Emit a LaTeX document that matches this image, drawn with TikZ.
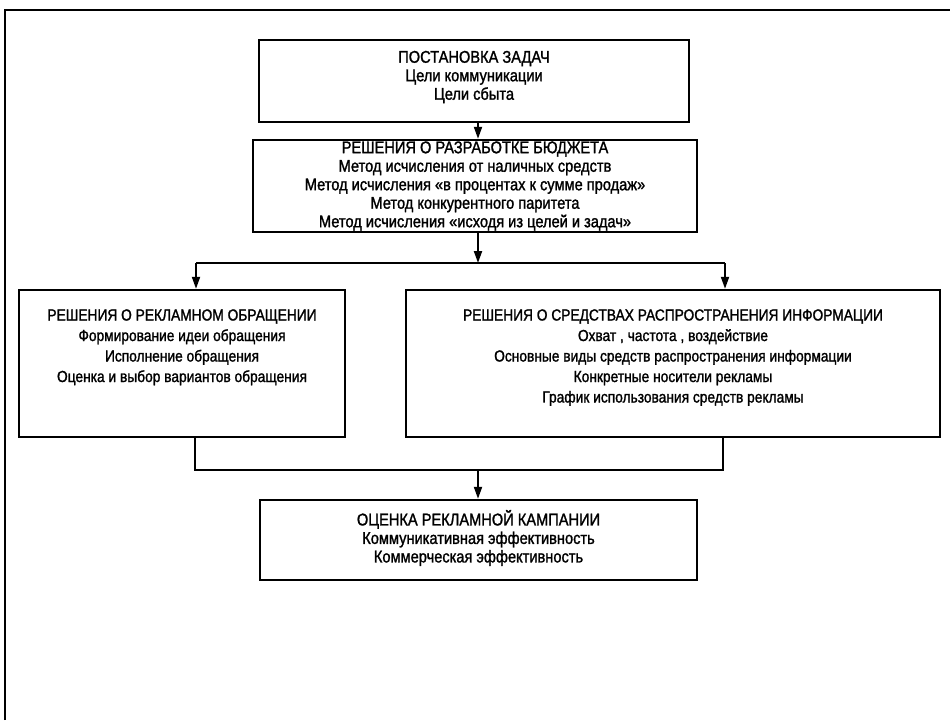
\documentclass[tikz,border=0pt]{standalone}
\usepackage{fontspec}
\setmainfont[FakeStretch=0.86,FakeBold=1.4]{Liberation Sans}
\usetikzlibrary{arrows.meta}
\begin{document}
\begin{tikzpicture}[x=1pt,y=-1pt,
  box/.style={draw, line width=2.4pt, inner sep=0pt, align=center},
  conn/.style={line width=2pt},
  arr/.style={conn, -{Triangle[length=12pt,width=8pt]}},
  smallf/.style={font=\fontsize{17}{18.5}\selectfont},
  bigf/.style={font=\fontsize{16}{20.5}\selectfont}]
\useasboundingbox (0,0) rectangle (950,720);
\draw[line width=2pt] (5,720) -- (5,10) -- (950,10);

\node[box, minimum width=430pt, minimum height=82pt] (b1) at (474,81) {};
\node[smallf, align=center] (t1) at ([yshift=4pt]b1.center)
  {ПОСТАНОВКА ЗАДАЧ\\Цели коммуникации\\Цели сбыта};
\node[box, smallf, minimum width=444pt, minimum height=92pt] (b2) at (475,186)
  {РЕШЕНИЯ О РАЗРАБОТКЕ БЮДЖЕТА\\Метод исчисления от наличных средств\\Метод исчисления «в процентах к сумме продаж»\\Метод конкурентного паритета\\Метод исчисления «исходя из целей и задач»};
\node[box, minimum width=326pt, minimum height=147pt] (lb) at (182,363.5) {};
\node[bigf, align=center, anchor=north] (lt) at ([yshift=-17pt]lb.north)
  {РЕШЕНИЯ О РЕКЛАМНОМ ОБРАЩЕНИИ\\Формирование идеи обращения\\Исполнение обращения\\Оценка и выбор вариантов обращения};
\node[box, minimum width=534pt, minimum height=147pt] (rb) at (673,363.5) {};
\node[bigf, align=center, anchor=north] (rt) at ([yshift=-17pt]rb.north)
  {РЕШЕНИЯ О СРЕДСТВАХ РАСПРОСТРАНЕНИЯ ИНФОРМАЦИИ\\Охват , частота , воздействие\\Основные виды средств распространения информации\\Конкретные носители рекламы\\График использования средств рекламы};
\node[box, minimum width=437pt, minimum height=80pt] (b3) at (478.5,540) {};
\node[smallf, align=center] (t3) at ([yshift=2pt]b3.center)
  {ОЦЕНКА РЕКЛАМНОЙ КАМПАНИИ\\Коммуникативная эффективность\\Коммерческая эффективность};

\coordinate (sx) at (478,0);
\draw[arr] (b1.south -| sx) -- (b2.north -| sx);
\coordinate (split) at (478,263);
\draw[arr] (b2.south -| split) -- (split);
\coordinate (sl) at (196,263);
\coordinate (sr) at (725,263);
\draw[conn] (sl) -- (sr);
\draw[arr] (sl) -- (lb.north -| sl);
\draw[arr] (sr) -- (rb.north -| sr);
\coordinate (ml) at (195,470);
\coordinate (mr) at (723,470);
\coordinate (mm) at (478,470);
\draw[conn] (lb.south -| ml) -- (ml) -- (mr) -- (rb.south -| mr);
\draw[arr] (mm) -- (b3.north -| mm);
\end{tikzpicture}
\end{document}
